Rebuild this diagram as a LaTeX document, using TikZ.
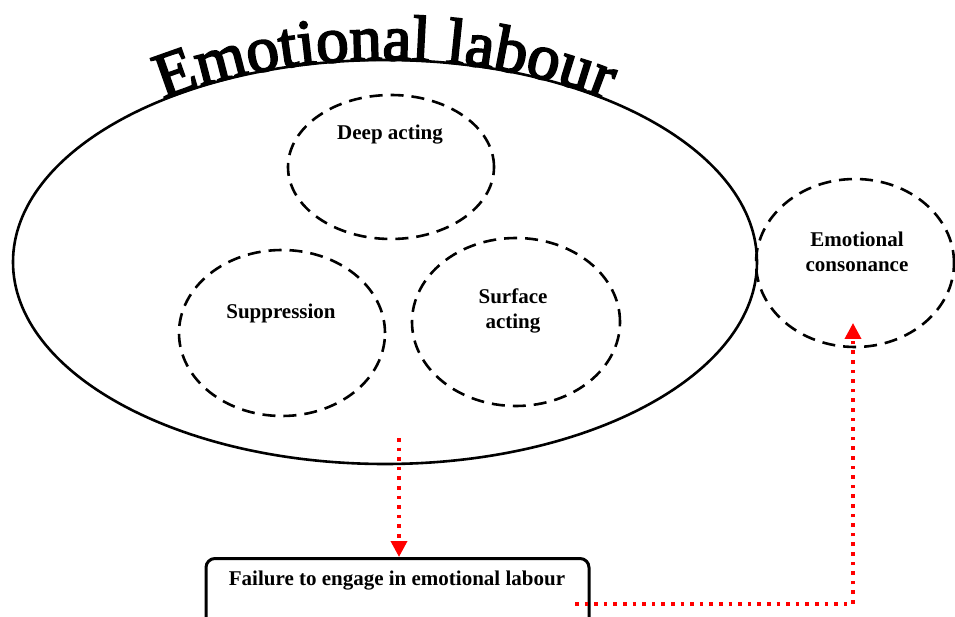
\documentclass[tikz,border=0pt]{standalone}
\usepackage{fontspec}
\setmainfont{Liberation Serif}
\newfontfamily\titlefont[FakeBold=3]{Liberation Serif}
\usetikzlibrary{shapes.geometric,arrows.meta,decorations.text}
\begin{document}
\begin{tikzpicture}[x=1pt,y=1pt,
  lbl/.style={font=\bfseries\fontsize{21}{25}\selectfont, align=center, inner sep=0pt},
  dcirc/.style={draw, ellipse, line width=2.6pt, dash pattern=on 13pt off 8pt, inner sep=0pt},
  redarrow/.style={draw=red, line width=3.6pt, dash pattern=on 3.6pt off 6pt, line cap=butt,
    -{Triangle[width=16pt,length=16pt]}}
]
\clip (0,0) rectangle (955,616);
% main ellipse
\node[draw, ellipse, line width=2.6pt, minimum width=744pt, minimum height=404pt, inner sep=0pt] (el) at (385,354) {};
% curved title
\path[decorate, decoration={text along path, text align=center,
  text={|\titlefont\fontsize{65}{65}\selectfont|Emotional labour}}]
  (100.0,483.8) arc[start angle=140, end angle=40, x radius=372, y radius=202];
% dashed circles
\node[dcirc, minimum width=206pt, minimum height=144pt] (deep) at (391,449) {};
\node[lbl] (deept) at (390,481) {Deep acting};
\node[dcirc, minimum width=206pt, minimum height=166pt] (supp) at (282,283) {};
\node[lbl] (suppt) at (281,303) {Suppression};
\node[dcirc, minimum width=208pt, minimum height=168pt] (surf) at (516,294) {};
\node[lbl] (surft) at (513,305) {Surface\\acting};
\node[dcirc, minimum width=198pt, minimum height=168pt] (cons) at (855,353) {};
\node[lbl] (const) at (857,364) {Emotional\\consonance};
% bottom box
\node[draw, line width=3pt, rounded corners=9pt, minimum width=383pt, minimum height=80pt, anchor=north, inner sep=0pt] (fail) at (397.5,59) {};
\node[lbl] (failt) at (397,35) {Failure to engage in emotional labour};
% arrows
\coordinate (a1) at (399,178);
\draw[redarrow] (a1) -- (a1 |- fail.north);
\coordinate (a2) at (575,12);
\coordinate (c2) at (853,293);
\draw[redarrow] (a2) -| (c2);
\end{tikzpicture}
\end{document}
